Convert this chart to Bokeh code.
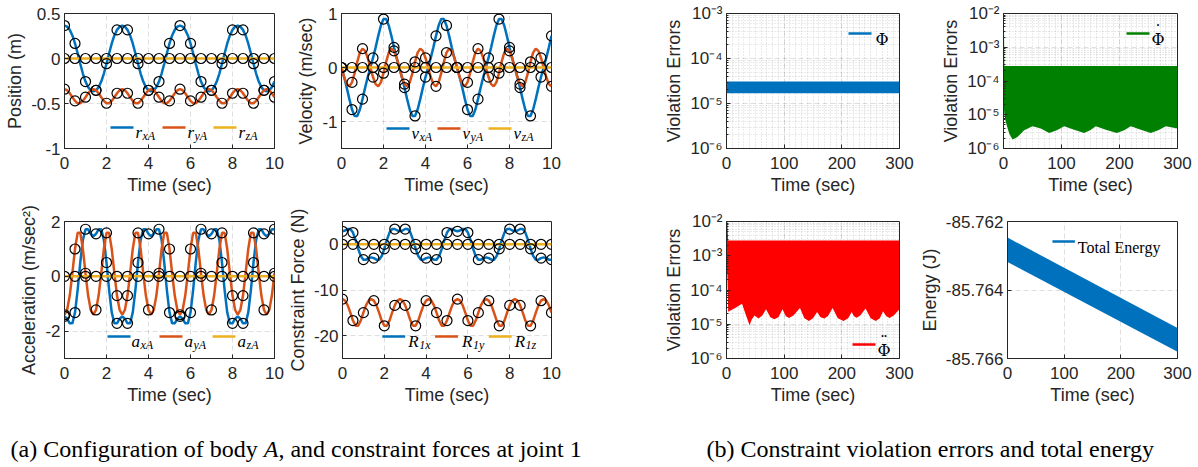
import math
import numpy as np
from bokeh.plotting import figure
from bokeh.layouts import column, row
from bokeh.models import Range1d, FixedTicker, CustomJSTickFormatter, Label, Arrow
from bokeh.embed import file_html
from bokeh.resources import INLINE

# ---------------------------------------------------------------- data
t_fine = np.linspace(0, 10, 81)          # 0.125 s samples (markers every 0.5 s)

rx_A = [0.366, 0.354, 0.318, 0.256, 0.167, 0.058, -0.058, -0.167, -0.256, -0.318, -0.354,
        -0.366, -0.354, -0.318, -0.256, -0.167, -0.058, 0.058, 0.167, 0.256, 0.318, 0.354,
        0.366, 0.354, 0.318, 0.256, 0.167, 0.058, -0.058, -0.167, -0.256, -0.318, -0.354,
        -0.366, -0.354, -0.318, -0.256, -0.167, -0.058, 0.058, 0.167, 0.256, 0.318, 0.354,
        0.366, 0.354, 0.318, 0.256, 0.167, 0.058, -0.058, -0.167, -0.256, -0.318, -0.354,
        -0.366, -0.354, -0.318, -0.256, -0.167, -0.058, 0.058, 0.167, 0.256, 0.318, 0.354,
        0.366, 0.354, 0.318, 0.256, 0.167, 0.058, -0.058, -0.167, -0.256, -0.318, -0.354,
        -0.366, -0.354, -0.318, -0.256]
ry_A = [-0.341, -0.353, -0.386, -0.430, -0.471, -0.497, -0.497, -0.471, -0.430, -0.386, -0.353,
        -0.341, -0.353, -0.386, -0.430, -0.471, -0.497, -0.497, -0.471, -0.430, -0.386, -0.353,
        -0.341, -0.353, -0.386, -0.430, -0.471, -0.497, -0.497, -0.471, -0.430, -0.386, -0.353,
        -0.341, -0.353, -0.386, -0.430, -0.471, -0.497, -0.497, -0.471, -0.430, -0.386, -0.353,
        -0.341, -0.353, -0.386, -0.430, -0.471, -0.497, -0.497, -0.471, -0.430, -0.386, -0.353,
        -0.341, -0.353, -0.386, -0.430, -0.471, -0.497, -0.497, -0.471, -0.430, -0.386, -0.353,
        -0.341, -0.353, -0.386, -0.430, -0.471, -0.497, -0.497, -0.471, -0.430, -0.386, -0.353,
        -0.341, -0.353, -0.386, -0.430]
rz_A = [0.0] * 81

vx_A = [0.000, -0.177, -0.373, -0.586, -0.779, -0.897, -0.897, -0.779, -0.586, -0.373, -0.177,
        0.000, 0.177, 0.373, 0.586, 0.779, 0.897, 0.897, 0.779, 0.586, 0.373, 0.177,
        0.000, -0.177, -0.373, -0.586, -0.779, -0.897, -0.897, -0.779, -0.586, -0.373, -0.177,
        0.000, 0.177, 0.373, 0.586, 0.779, 0.897, 0.897, 0.779, 0.586, 0.373, 0.177,
        0.000, -0.177, -0.373, -0.586, -0.779, -0.897, -0.897, -0.779, -0.586, -0.373, -0.177,
        0.000, 0.177, 0.373, 0.586, 0.779, 0.897, 0.897, 0.779, 0.586, 0.373, 0.177,
        0.000, -0.177, -0.373, -0.586, -0.779, -0.897, -0.897, -0.779, -0.586, -0.373, -0.177,
        0.000, 0.177, 0.373, 0.586]
vy_A = [0.000, -0.177, -0.308, -0.349, -0.276, -0.105, 0.105, 0.276, 0.349, 0.308, 0.177,
        0.000, -0.177, -0.308, -0.349, -0.276, -0.105, 0.105, 0.276, 0.349, 0.308, 0.177,
        0.000, -0.177, -0.308, -0.349, -0.276, -0.105, 0.105, 0.276, 0.349, 0.308, 0.177,
        0.000, -0.177, -0.308, -0.349, -0.276, -0.105, 0.105, 0.276, 0.349, 0.308, 0.177,
        0.000, -0.177, -0.308, -0.349, -0.276, -0.105, 0.105, 0.276, 0.349, 0.308, 0.177,
        0.000, -0.177, -0.308, -0.349, -0.276, -0.105, 0.105, 0.276, 0.349, 0.308, 0.177,
        0.000, -0.177, -0.308, -0.349, -0.276, -0.105, 0.105, 0.276, 0.349, 0.308, 0.177,
        0.000, -0.177, -0.308, -0.349]
vz_A = [0.0] * 81

ax_A = [-1.461, -1.549, -1.716, -1.718, -1.324, -0.503, 0.503, 1.324, 1.718, 1.716, 1.549,
        1.461, 1.549, 1.716, 1.718, 1.324, 0.503, -0.503, -1.324, -1.718, -1.716, -1.549,
        -1.461, -1.549, -1.716, -1.718, -1.324, -0.503, 0.503, 1.324, 1.718, 1.716, 1.549,
        1.461, 1.549, 1.716, 1.718, 1.324, 0.503, -0.503, -1.324, -1.718, -1.716, -1.549,
        -1.461, -1.549, -1.716, -1.718, -1.324, -0.503, 0.503, 1.324, 1.718, 1.716, 1.549,
        1.461, 1.549, 1.716, 1.718, 1.324, 0.503, -0.503, -1.324, -1.718, -1.716, -1.549,
        -1.461, -1.549, -1.716, -1.718, -1.324, -0.503, 0.503, 1.324, 1.718, 1.716, 1.549,
        1.461, 1.549, 1.716, 1.718]
ay_A = [-1.403, -1.227, -0.704, 0.112, 0.996, 1.586, 1.586, 0.996, 0.112, -0.704, -1.227,
        -1.403, -1.227, -0.704, 0.112, 0.996, 1.586, 1.586, 0.996, 0.112, -0.704, -1.227,
        -1.403, -1.227, -0.704, 0.112, 0.996, 1.586, 1.586, 0.996, 0.112, -0.704, -1.227,
        -1.403, -1.227, -0.704, 0.112, 0.996, 1.586, 1.586, 0.996, 0.112, -0.704, -1.227,
        -1.403, -1.227, -0.704, 0.112, 0.996, 1.586, 1.586, 0.996, 0.112, -0.704, -1.227,
        -1.403, -1.227, -0.704, 0.112, 0.996, 1.586, 1.586, 0.996, 0.112, -0.704, -1.227,
        -1.403, -1.227, -0.704, 0.112, 0.996, 1.586, 1.586, 0.996, 0.112, -0.704, -1.227,
        -1.403, -1.227, -0.704, 0.112]
az_A = [0.0] * 81

R1x = [2.85, 3.02, 3.35, 3.35, 2.58, 0.98, -0.98, -2.58, -3.35, -3.35, -3.02,
       -2.85, -3.02, -3.35, -3.35, -2.58, -0.98, 0.98, 2.58, 3.35, 3.35, 3.02,
       2.85, 3.02, 3.35, 3.35, 2.58, 0.98, -0.98, -2.58, -3.35, -3.35, -3.02,
       -2.85, -3.02, -3.35, -3.35, -2.58, -0.98, 0.98, 2.58, 3.35, 3.35, 3.02,
       2.85, 3.02, 3.35, 3.35, 2.58, 0.98, -0.98, -2.58, -3.35, -3.35, -3.02,
       -2.85, -3.02, -3.35, -3.35, -2.58, -0.98, 0.98, 2.58, 3.35, 3.35, 3.02,
       2.85, 3.02, 3.35, 3.35, 2.58, 0.98, -0.98, -2.58, -3.35, -3.35, -3.02,
       -2.85, -3.02, -3.35, -3.35]
R1y = [-12.00, -12.34, -13.37, -14.96, -16.69, -17.84, -17.84, -16.69, -14.96, -13.37, -12.34,
       -12.00, -12.34, -13.37, -14.96, -16.69, -17.84, -17.84, -16.69, -14.96, -13.37, -12.34,
       -12.00, -12.34, -13.37, -14.96, -16.69, -17.84, -17.84, -16.69, -14.96, -13.37, -12.34,
       -12.00, -12.34, -13.37, -14.96, -16.69, -17.84, -17.84, -16.69, -14.96, -13.37, -12.34,
       -12.00, -12.34, -13.37, -14.96, -16.69, -17.84, -17.84, -16.69, -14.96, -13.37, -12.34,
       -12.00, -12.34, -13.37, -14.96, -16.69, -17.84, -17.84, -16.69, -14.96, -13.37, -12.34,
       -12.00, -12.34, -13.37, -14.96, -16.69, -17.84, -17.84, -16.69, -14.96, -13.37, -12.34,
       -12.00, -12.34, -13.37, -14.96]
R1z = [0.0] * 81

# constraint violation envelopes (rapid oscillation -> band between envelopes)
phi_t = [0.0, 300.0]
phi_lo = [1.7e-5, 1.7e-5]
phi_hi = [3.1e-5, 3.1e-5]

dphi_t = [0.0, 0.9, 1.5, 4.0, 9.8, 15.5, 24.1, 35.6, 50.0, 64.4, 78.7, 92.0, 104.6,
          121.8, 139.0, 149.4, 159.2, 176.4, 195.4, 208.0, 219.5, 236.8, 254.0, 266.7, 279.9, 300.0]
dphi_lo = [1.4e-5, 1.4e-5, 1.0e-5, 6.1e-6, 2.8e-6, 1.84e-6, 2.2e-6, 3.5e-6, 4.6e-6, 3.9e-6,
           2.9e-6, 3.5e-6, 4.6e-6, 3.6e-6, 2.9e-6, 3.5e-6, 4.6e-6, 3.6e-6, 2.9e-6, 3.5e-6,
           4.6e-6, 3.6e-6, 2.9e-6, 3.5e-6, 4.6e-6, 3.9e-6]
dphi_hi = [3.45e-3, 3.45e-3] + [2.8e-4] * 24

ddphi_t = [0.0, 1.5, 2.9, 15.0, 26.9, 33.0, 40.0, 44.0, 48.6, 55.4, 62.0, 68.6, 76.0, 82.9,
           90.0, 97.1, 103.0, 108.6, 116.0, 127.4, 135.0, 142.9, 150.0, 157.1, 163.0, 169.7,
           176.0, 184.0, 193.0, 202.9, 211.0, 217.1, 221.0, 225.7, 232.0, 241.1, 250.0, 258.9,
           266.0, 271.4, 277.0, 282.9, 290.0, 300.0]
ddphi_lo = [3.0e-4, 3.0e-4, 2.3e-5, 3.0e-5, 4.0e-5, 2.0e-5, 9.3e-6, 1.4e-5, 1.8e-5, 1.46e-5,
            1.8e-5, 2.74e-5, 1.6e-5, 1.39e-5, 1.6e-5, 2.74e-5, 1.7e-5, 1.52e-5, 1.8e-5, 3.0e-5,
            1.5e-5, 1.24e-5, 1.5e-5, 2.29e-5, 1.6e-5, 1.46e-5, 1.75e-5, 3.0e-5, 1.5e-5, 1.24e-5,
            1.5e-5, 2.29e-5, 1.7e-5, 1.56e-5, 1.8e-5, 2.87e-5, 1.5e-5, 1.24e-5, 1.5e-5, 2.39e-5,
            1.7e-5, 1.52e-5, 1.8e-5, 2.74e-5]
ddphi_hi = [1.0e-2, 1.0e-2] + [2.8e-3] * 42

en_t = [0.0, 300.0]
en_hi = [-85.76247, -85.76511]
en_lo = [-85.76318, -85.76580]

x_ticks_a = [0, 2, 4, 6, 8, 10]
x_ticks_b = [0, 100, 200, 300]

# ---------------------------------------------------------------- style
AXC = "#262626"
BLUE, ORANGE, YELLOW = "#0072BD", "#D95319", "#EDB120"
GREEN, RED = "#008000", "#FF0000"
SANS = "Liberation Sans"
SERIF = "Liberation Serif"

# page_x, width, border_left, border_right   (Bokeh page has no body margin)
COLS = [(0, 284, 64, 10), (284, 376, 57, 109), (660, 256, 66, 17), (916, 282, 87, 21)]
# page_y, height, border_top, border_bottom
ROWS = [(0, 202, 13, 54), (202, 209, 19, 53)]

LOG_FMT = """
const e = Math.round(Math.log10(tick));
const m = {'-':'\u207b','0':'\u2070','1':'\u00b9','2':'\u00b2','3':'\u00b3','4':'\u2074',
           '5':'\u2075','6':'\u2076','7':'\u2077','8':'\u2078','9':'\u2079'};
return '10' + String(e).split('').map(c => m[c]).join('');
"""


def make_panel(ci, ri, xr, yr, xticks, yticks, ylabel, ylog=False, yfmt="return String(tick);"):
    px, w, bl, br = COLS[ci]
    py, h, bt, bb = ROWS[ri]
    p = figure(width=w, height=h, x_range=Range1d(*xr), y_range=Range1d(*yr),
               y_axis_type="log" if ylog else "linear", output_backend="svg",
               toolbar_location=None, min_border_left=bl, min_border_right=br,
               min_border_top=bt, min_border_bottom=bb)
    p.outline_line_color = AXC
    p.outline_line_width = 1
    p.background_fill_color = "white"
    p.border_fill_color = "white"

    if ylog:
        e0 = int(round(math.log10(yr[0])))
        e1 = int(round(math.log10(yr[1])))
        minor_y = [m * 10.0 ** e for e in range(e0, e1) for m in range(2, 10)]
        p.yaxis.ticker = FixedTicker(ticks=yticks, minor_ticks=minor_y)
        p.yaxis.formatter = CustomJSTickFormatter(code=LOG_FMT)
        p.xaxis.ticker = FixedTicker(ticks=xticks, minor_ticks=list(range(0, 301, 10)))
    else:
        p.yaxis.ticker = FixedTicker(ticks=yticks)
        p.yaxis.formatter = CustomJSTickFormatter(code=yfmt)
        p.xaxis.ticker = FixedTicker(ticks=xticks)
    p.xaxis.formatter = CustomJSTickFormatter(code="return String(tick);")

    for a in (p.xaxis[0], p.yaxis[0]):
        a.axis_line_color = AXC
        a.major_tick_line_color = AXC
        a.major_tick_in = 4
        a.major_tick_out = 0
        a.minor_tick_in = 0
        a.minor_tick_out = 0
        a.major_label_text_font = SANS
        a.major_label_text_font_size = "17px"
        a.major_label_text_color = AXC
        a.axis_label_text_font = SANS
        a.axis_label_text_font_size = "18px"
        a.axis_label_text_font_style = "normal"
        a.axis_label_text_color = AXC
        a.major_label_standoff = 4
        a.axis_label_standoff = 3
    p.xaxis.major_label_standoff = 8
    p.xaxis.axis_label = "Time (sec)"
    p.yaxis.axis_label = ylabel
    if ylog:
        p.yaxis.minor_tick_in = 2
        p.yaxis.minor_tick_line_color = AXC

    for gr in (p.xgrid[0], p.ygrid[0]):
        gr.grid_line_color = AXC
        gr.grid_line_alpha = 0.15
        gr.grid_line_dash = "5 3"
        if ylog:
            gr.minor_grid_line_color = AXC
            gr.minor_grid_line_alpha = 0.2
            gr.minor_grid_line_dash = "1 2"

    geom = dict(left=px + bl, right=px + w - br, top=py + bt, bottom=py + h - bb,
                xr=xr, yr=yr, ylog=ylog)
    return p, geom


def to_data(g, X, Y):
    x0, x1 = g["xr"]
    y0, y1 = g["yr"]
    x = x0 + (X - g["left"]) / (g["right"] - g["left"]) * (x1 - x0)
    f = (g["bottom"] - Y) / (g["bottom"] - g["top"])
    if g["ylog"]:
        y = 10 ** (math.log10(y0) + f * (math.log10(y1) - math.log10(y0)))
    else:
        y = y0 + f * (y1 - y0)
    return x, y


def legend_item(p, g, sx, tx, Y, color, main, sub=None, main_w=0.0, italic=True, size=17,
                font=SERIF, accent=None):
    xa, ya = to_data(g, sx, Y)
    xb, _ = to_data(g, sx + 23, Y)
    p.add_layout(Arrow(end=None, x_start=xa, y_start=ya, x_end=xb, y_end=ya,
                       line_color=color, line_width=2.5))
    mx, my = to_data(g, tx, Y + (4.5 if sub else 5.5))
    p.add_layout(Label(x=mx, y=my, text=main, text_font=font,
                       text_font_style="italic" if italic else "normal",
                       text_font_size=f"{size}px", text_color="black",
                       text_baseline="alphabetic", text_align="left"))
    if sub:
        bx, by = to_data(g, tx + main_w, Y + 8.5)
        p.add_layout(Label(x=bx, y=by, text=sub, text_font=font, text_font_style="italic",
                           text_font_size="12px", text_color="black",
                           text_baseline="alphabetic", text_align="left"))
    if accent:
        # dot / double dot over the Phi (time derivative)
        ax_, ay_ = to_data(g, tx + 6.5, Y - 2.5)
        p.add_layout(Label(x=ax_, y=ay_, text=accent, text_font=font,
                           text_font_size=f"{size}px", text_color="black",
                           text_baseline="middle", text_align="center"))


def draw_series(p, lines):
    for ys, col in lines:
        p.line(t_fine, ys, line_color=col, line_width=2.5)
    for ys, col in lines:
        p.scatter(t_fine[::4], ys[::4], marker="circle", size=10, fill_color=None,
                  line_color="black", line_width=1.2)


# ---------------------------------------------------------------- panel (a)
p1, g1 = make_panel(0, 0, (0, 10), (-1, 0.5), x_ticks_a, [-1, -0.5, 0, 0.5], "Position (m)")
draw_series(p1, [(rx_A, BLUE), (ry_A, ORANGE), (rz_A, YELLOW)])
for sx, tx, c, s in [(110, 135, BLUE, "xA"), (162, 187, ORANGE, "yA"), (213, 238, YELLOW, "zA")]:
    legend_item(p1, g1, sx, tx, 127, c, "r", s, main_w=7.0)

p2, g2 = make_panel(1, 0, (0, 10), (-1.5, 1), x_ticks_a, [-1, 0, 1], "Velocity (m/sec)")
draw_series(p2, [(vx_A, BLUE), (vy_A, ORANGE), (vz_A, YELLOW)])
for sx, tx, c, s in [(386, 411, BLUE, "xA"), (437, 462, ORANGE, "yA"), (488, 513, YELLOW, "zA")]:
    legend_item(p2, g2, sx, tx, 128, c, "v", s, main_w=8.0)

p3, g3 = make_panel(0, 1, (0, 10), (-3, 2), x_ticks_a, [-2, 0, 2], "Acceleration (m/sec\u00b2)")
draw_series(p3, [(ax_A, BLUE), (ay_A, ORANGE), (az_A, YELLOW)])
for sx, tx, c, s in [(107, 131, BLUE, "xA"), (159, 184, ORANGE, "yA"), (212, 237, YELLOW, "zA")]:
    legend_item(p3, g3, sx, tx, 336, c, "a", s, main_w=9.0)

p4, g4 = make_panel(1, 1, (0, 10), (-25, 5), x_ticks_a, [-20, -10, 0], "Constraint Force (N)")
draw_series(p4, [(R1x, BLUE), (R1y, ORANGE), (R1z, YELLOW)])
for sx, tx, c, s in [(381, 407, BLUE, "1x"), (434, 461, ORANGE, "1y"), (488, 514, YELLOW, "1z")]:
    legend_item(p4, g4, sx, tx, 336, c, "R", s, main_w=11.0)

# ---------------------------------------------------------------- panel (b)
p5, g5 = make_panel(2, 0, (0, 300), (1e-6, 1e-3), x_ticks_b, [1e-6, 1e-5, 1e-4, 1e-3],
                    "Violation Errors", ylog=True)
p5.varea(x=phi_t, y1=phi_lo, y2=phi_hi, fill_color=BLUE)
legend_item(p5, g5, 848, 875, 33, BLUE, "\u03a6", italic=False, font="DejaVu Serif", size=16)

p6, g6 = make_panel(3, 0, (0, 300), (1e-6, 1e-2), x_ticks_b, [1e-6, 1e-5, 1e-4, 1e-3, 1e-2],
                    "Violation Errors", ylog=True)
p6.varea(x=dphi_t, y1=dphi_lo, y2=dphi_hi, fill_color=GREEN)
legend_item(p6, g6, 1126, 1151, 33, GREEN, "\u03a6", italic=False, font="DejaVu Serif",
            size=16, accent="\u02d9")

p7, g7 = make_panel(2, 1, (0, 300), (1e-6, 1e-2), x_ticks_b, [1e-6, 1e-5, 1e-4, 1e-3, 1e-2],
                    "Violation Errors", ylog=True)
p7.varea(x=ddphi_t, y1=ddphi_lo, y2=ddphi_hi, fill_color=RED)
legend_item(p7, g7, 852, 877, 344, RED, "\u03a6", italic=False, font="DejaVu Serif",
            size=16, accent="\u00a8")

p8, g8 = make_panel(3, 1, (0, 300), (-85.766, -85.762), x_ticks_b,
                    [-85.766, -85.764, -85.762], "Energy (J)", yfmt="return tick.toFixed(3);")
p8.varea(x=en_t, y1=en_lo, y2=en_hi, fill_color=BLUE)
legend_item(p8, g8, 1049, 1075, 241, BLUE, "Total Energy", italic=False, size=16)

# ---------------------------------------------------------------- captions
cap = figure(width=1198, height=56, x_range=Range1d(0, 1198), y_range=Range1d(56, 0),
             output_backend="svg", toolbar_location=None, x_axis_location=None,
             y_axis_location=None, min_border=0)
cap.outline_line_color = None
cap.grid.visible = False
FS = 24
cap_parts = [
    (10.0, "(a) Configuration of body", "normal"),
    (10.0 + 10.554 * FS, "A", "italic"),
    (10.0 + (10.554 + 0.611) * FS, ", and constraint forces at joint 1", "normal"),
    (706.0, "(b) Constraint violation errors and total energy", "normal"),
]
for x, txt, st in cap_parts:
    cap.add_layout(Label(x=x, y=37, text=txt, text_font=SERIF, text_font_style=st,
                         text_font_size=f"{FS}px", text_color="black",
                         text_baseline="middle", text_align="left"))

layout = column(row(p1, p2, p5, p6), row(p3, p4, p7, p8), cap)
open("out.html", "w").write(file_html(layout, INLINE))
